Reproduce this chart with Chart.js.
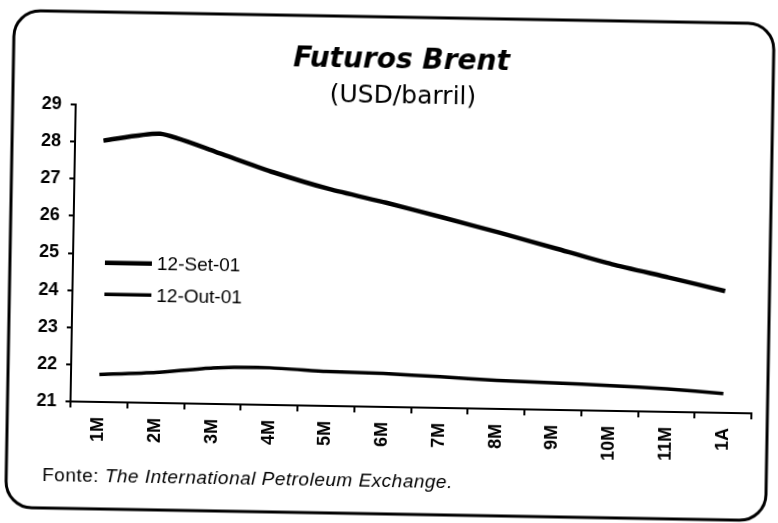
<!DOCTYPE html>
<html>
<head>
<meta charset="utf-8">
<script src="https://cdn.jsdelivr.net/npm/chart.js@4.4.1/dist/chart.umd.min.js"></script>
<style>
  html, body { margin: 0; padding: 0; background: #fff; overflow: hidden; }
  #wrap { position: relative; width: 778px; height: 523px; transform: rotate(1deg); transform-origin: 389px 261.5px; }
</style>
</head>
<body>
<div id="wrap"><canvas id="c" width="778" height="523"></canvas></div>
<script>
const categories = ['1M','2M','3M','4M','5M','6M','7M','8M','9M','10M','11M','1A'];
const seriesSet = [28.04, 28.25, 27.78, 27.27, 26.84, 26.5, 26.13, 25.75, 25.35, 24.95, 24.62, 24.28];
const seriesOut = [21.74, 21.82, 21.97, 22.0, 21.93, 21.9, 21.84, 21.77, 21.73, 21.68, 21.62, 21.52];
const seriesLabels = ['12-Set-01', '12-Out-01'];
const yTicks = [21, 22, 23, 24, 25, 26, 27, 28, 29];
const legendValues = [24.75, 23.9];
const titleText = 'Futuros Brent';
const subtitleText = '(USD/barril)';
const sourcePrefix = 'Fonte: ';
const sourceText = 'The International Petroleum Exchange.';

const framePlugin = {
  id: 'frame',
  beforeDraw(chart) {
    const ctx = chart.ctx;
    ctx.save();
    ctx.fillStyle = '#fff';
    ctx.fillRect(0, 0, chart.width, chart.height);
    ctx.strokeStyle = '#000';
    ctx.lineWidth = 3;
    ctx.beginPath();
    ctx.roundRect(10, 17, 760, 497, 26);
    ctx.stroke();
    ctx.fillStyle = '#000';
    ctx.textAlign = 'center';
    ctx.textBaseline = 'alphabetic';
    ctx.font = 'italic bold 28px "DejaVu Sans", Verdana, sans-serif';
    ctx.fillText(titleText, 398, 68);
    ctx.font = '25px "DejaVu Sans", Verdana, sans-serif';
    ctx.fillText(subtitleText, 400, 103);
    ctx.restore();
  },
  afterDraw(chart) {
    const ctx = chart.ctx;
    ctx.save();
    const x0 = chart.chartArea.left + 32;
    chart.data.datasets.forEach((ds, i) => {
      const y = chart.scales.y.getPixelForValue(legendValues[i]);
      ctx.strokeStyle = ds.borderColor;
      ctx.lineWidth = ds.borderWidth;
      ctx.beginPath();
      ctx.moveTo(x0, y);
      ctx.lineTo(x0 + 47, y);
      ctx.stroke();
      ctx.fillStyle = '#000';
      ctx.font = '19px "Liberation Sans", Arial, sans-serif';
      ctx.textBaseline = 'middle';
      ctx.textAlign = 'left';
      ctx.fillText(ds.label, x0 + 52, y + 1);
    });
    ctx.textBaseline = 'alphabetic';
    ctx.textAlign = 'left';
    ctx.fillStyle = '#000';
    ctx.letterSpacing = '0.5px';
    ctx.font = '19px "Liberation Sans", Arial, sans-serif';
    ctx.fillText(sourcePrefix, 46, 487);
    const w = ctx.measureText(sourcePrefix).width;
    ctx.font = 'italic 19px "Liberation Sans", Arial, sans-serif';
    ctx.fillText(sourceText, 46 + w, 487);
    ctx.restore();
  }
};

new Chart(document.getElementById('c'), {
  type: 'line',
  data: {
    labels: categories,
    datasets: [
      { label: seriesLabels[0], data: seriesSet, borderColor: '#000', backgroundColor: '#000', borderWidth: 4.5, pointRadius: 0, tension: 0.2 },
      { label: seriesLabels[1], data: seriesOut, borderColor: '#000', backgroundColor: '#000', borderWidth: 3.5, pointRadius: 0, tension: 0.2 }
    ]
  },
  options: {
    responsive: false,
    animation: false,
    devicePixelRatio: 1,
    layout: { padding: { left: 28, right: 24, top: 110, bottom: 64 } },
    plugins: {
      legend: { display: false },
      tooltip: { enabled: false },
      title: { display: false }
    },
    scales: {
      x: {
        offset: true,
        grid: { display: true, drawOnChartArea: false, drawTicks: true, tickLength: 6, color: '#000', lineWidth: 2, offset: true },
        border: { display: true, color: '#000', width: 2 },
        ticks: {
          color: '#000',
          minRotation: 90, maxRotation: 90,
          font: { family: '"Liberation Sans", Arial, sans-serif', size: 18, weight: 'bold' },
          padding: 9
        },
        afterFit(scale) { scale.height = 52; }
      },
      y: {
        min: 21, max: 29,
        afterBuildTicks(scale) { scale.ticks = yTicks.map(v => ({ value: v })); },
        grid: { display: true, drawOnChartArea: false, drawTicks: true, tickLength: 5, color: '#000', lineWidth: 2 },
        border: { display: true, color: '#000', width: 2 },
        ticks: {
          color: '#000',
          font: { family: '"Liberation Sans", Arial, sans-serif', size: 18, weight: 'bold' },
          padding: 9
        },
        afterFit(scale) { scale.width = 45; }
      }
    }
  },
  plugins: [framePlugin]
});
</script>
</body>
</html>
